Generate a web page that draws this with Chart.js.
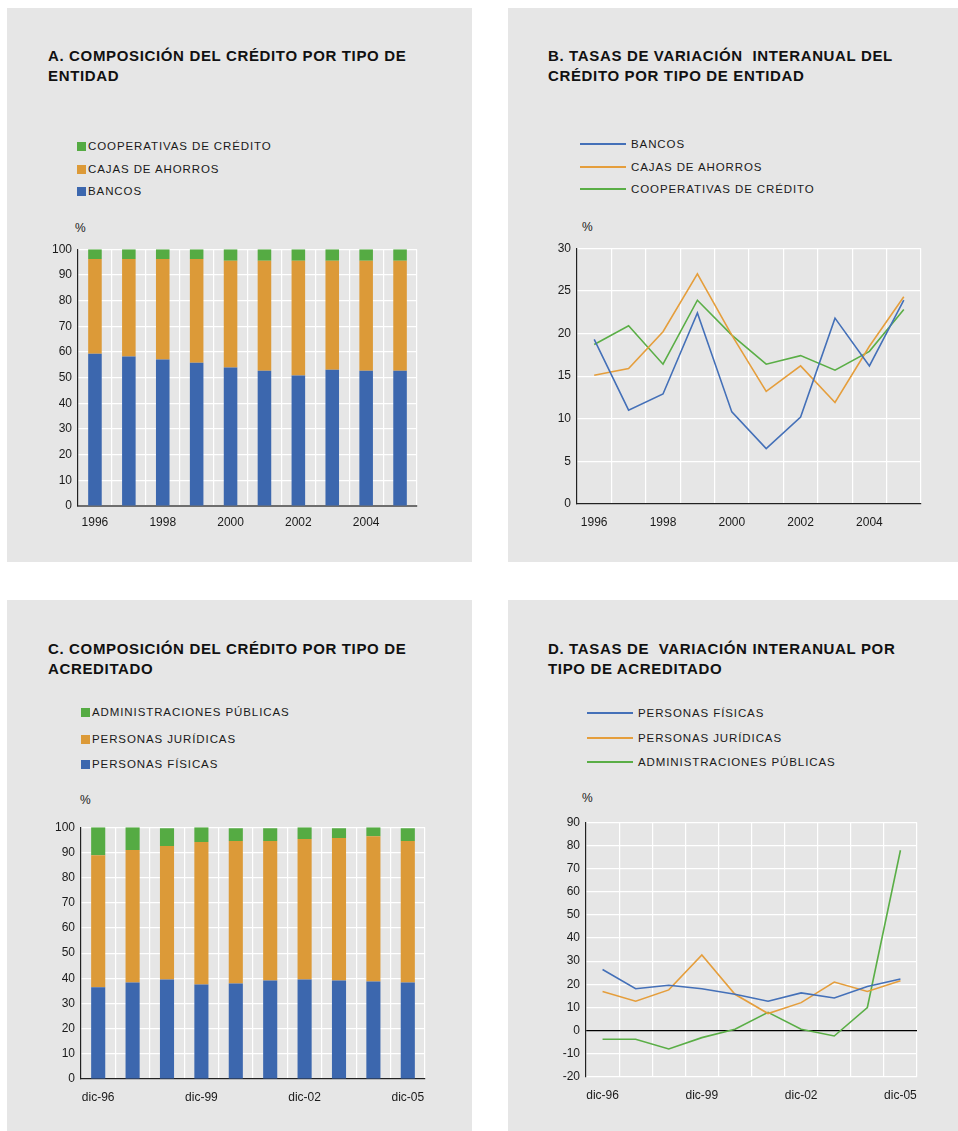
<!DOCTYPE html>
<html>
<head>
<meta charset="utf-8">
<script src="https://cdn.jsdelivr.net/npm/chart.js@4/dist/chart.umd.min.js"></script>
<style>
  body { margin: 0; background: #fff; width: 958px; height: 1131px; position: relative; overflow: hidden;
         font-family: 'Liberation Sans', Arial, sans-serif; color: #1a1a1a; }
  .panel { position: absolute; background: #e6e6e6; }
  .title { position: absolute; font-weight: bold; font-size: 15px; line-height: 19.5px; letter-spacing: 0.65px; color: #111; }
  .legend { position: absolute; font-size: 11.5px; letter-spacing: 0.9px; color: #1a1a1a; }
  .legend div { position: absolute; white-space: nowrap; left: 0; }
  .legend .sw { display: inline-block; width: 9px; height: 9px; margin-right: 2px; vertical-align: -1px; }
  .legend .ln { display: inline-block; width: 46px; height: 1.6px; margin-right: 5px; vertical-align: 3px; }
  .pct { position: absolute; font-size: 12px; color: #1a1a1a; }
  canvas { position: absolute; }
</style>
</head>
<body>
<div class="panel" style="left:7px;top:8px;width:465px;height:554px"></div>
<div class="panel" style="left:508px;top:8px;width:450px;height:554px"></div>
<div class="panel" style="left:7px;top:600px;width:465px;height:531px"></div>
<div class="panel" style="left:508px;top:600px;width:450px;height:531px"></div>

<div class="title" style="left:48px;top:46px">A. COMPOSICIÓN DEL CRÉDITO POR TIPO DE<br>ENTIDAD</div>
<div class="title" style="left:548px;top:46px">B. TASAS DE VARIACIÓN &nbsp;INTERANUAL DEL<br>CRÉDITO POR TIPO DE ENTIDAD</div>
<div class="title" style="left:48px;top:639px">C. COMPOSICIÓN DEL CRÉDITO POR TIPO DE<br>ACREDITADO</div>
<div class="title" style="left:548px;top:639px">D. TASAS DE &nbsp;VARIACIÓN INTERANUAL POR<br>TIPO DE ACREDITADO</div>

<div class="legend" id="legA" style="left:77px;top:0"></div>
<div class="legend" id="legB" style="left:580px;top:0"></div>
<div class="legend" id="legC" style="left:81px;top:0"></div>
<div class="legend" id="legD" style="left:587px;top:0"></div>

<div class="pct" style="left:75px;top:221px">%</div>
<div class="pct" style="left:582px;top:220px">%</div>
<div class="pct" style="left:80px;top:793px">%</div>
<div class="pct" style="left:582px;top:791px">%</div>

<canvas id="chartA" width="420" height="300" style="left:20px;top:236px"></canvas>
<canvas id="chartB" width="420" height="300" style="left:520px;top:235px"></canvas>
<canvas id="chartC" width="420" height="295" style="left:20px;top:814px"></canvas>
<canvas id="chartD" width="420" height="298" style="left:520px;top:809px"></canvas>

<script>
// Panel A / B: by type of institution
const years = ['1996', '1997', '1998', '1999', '2000', '2001', '2002', '2003', '2004', '2005'];
const bancosShare = [59.3, 58.2, 57.0, 55.8, 53.9, 52.7, 50.8, 53.1, 52.7, 52.7];
const cajasShare = [36.9, 38.0, 39.2, 40.4, 41.6, 42.8, 44.7, 42.4, 42.8, 42.8];
const coopShare = [3.8, 3.8, 3.8, 3.8, 4.5, 4.5, 4.5, 4.5, 4.5, 4.5];

const bancosRate = [19.3, 11.0, 12.9, 22.4, 10.8, 6.5, 10.2, 21.8, 16.2, 23.9];
const cajasRate = [15.1, 15.9, 20.2, 27.0, 19.8, 13.2, 16.2, 11.9, 18.5, 24.3];
const coopRate = [18.7, 20.9, 16.4, 23.9, 19.8, 16.4, 17.4, 15.7, 17.9, 22.8];

// Panel C / D: by type of borrower
const months = ['dic-96', 'dic-97', 'dic-98', 'dic-99', 'dic-00', 'dic-01', 'dic-02', 'dic-03', 'dic-04', 'dic-05'];
const fisicasShare = [36.4, 38.3, 39.5, 37.5, 37.9, 39.1, 39.5, 39.1, 38.7, 38.3];
const juridicasShare = [52.5, 52.6, 53.0, 56.6, 56.6, 55.4, 55.8, 56.6, 57.7, 56.2];
const publicasShare = [11.1, 9.1, 7.1, 5.9, 5.1, 5.1, 4.7, 3.9, 3.6, 5.1];

const fisicasRate = [26.4, 18.1, 19.6, 18.1, 15.7, 12.7, 16.3, 14.1, 19.1, 22.3];
const juridicasRate = [16.9, 12.7, 17.6, 32.7, 15.7, 7.4, 12.1, 21.0, 16.9, 21.6];
const publicasRate = [-3.7, -3.7, -7.9, -3.0, 0.6, 7.9, 0.6, -2.3, 10.0, 77.9];

const BLUE = '#3c67ae';
const ORANGE = '#dc9a38';
const GREEN = '#55ab43';
const LINE_BLUE = '#4470b8';
const LINE_ORANGE = '#e59e3c';
const LINE_GREEN = '#5aae46';

Chart.defaults.font.family = "'Liberation Sans', Arial, sans-serif";
Chart.defaults.font.size = 12;
Chart.defaults.color = '#1a1a1a';
Chart.defaults.animation = false;

function legend(id, rows, kind, tops) {
  const el = document.getElementById(id);
  el.innerHTML = rows.map((r, i) => kind === 'box'
    ? `<div style="top:${tops[i] - 7}px"><span class="sw" style="background:${r.color}"></span>${r.label}</div>`
    : `<div style="top:${tops[i] - 7}px"><span class="ln" style="background:${r.color}"></span>${r.label}</div>`
  ).join('');
}

function makeChart(id, type, labels, datasets, opts) {
  return new Chart(document.getElementById(id), {
    type,
    data: { labels, datasets },
    options: {
      responsive: false,
      layout: { padding: { top: opts.padTop, right: opts.padRight, left: 0, bottom: 0 } },
      plugins: { legend: { display: false }, tooltip: { enabled: false } },
      elements: { point: { radius: 0 }, line: { borderWidth: 1.6, tension: 0 } },
      scales: {
        x: {
          stacked: type === 'bar',
          offset: true,
          grid: { offset: true, color: '#ffffff', lineWidth: 1.2, drawTicks: false },
          border: opts.xBorder,
          ticks: {
            autoSkip: false,
            maxRotation: 0,
            padding: opts.xPad,
            callback(value, index) { return index % opts.every === 0 ? this.getLabelForValue(value) : ''; },
          },
          afterFit(scale) { scale.height = opts.xHeight; },
        },
        y: {
          stacked: type === 'bar',
          min: opts.min,
          max: opts.max,
          grid: { color: opts.gridColor || '#ffffff', lineWidth: 1.2, drawTicks: false },
          border: { display: true, color: '#222', width: 1.2 },
          ticks: { stepSize: opts.step, padding: 6 },
          afterFit(scale) { scale.width = opts.yWidth; },
        },
      },
    },
  });
}

// A
legend('legA', [
  { label: 'COOPERATIVAS DE CRÉDITO', color: GREEN },
  { label: 'CAJAS DE AHORROS', color: ORANGE },
  { label: 'BANCOS', color: BLUE },
], 'box', [147, 170, 192]);
makeChart('chartA', 'bar', years, [
  { label: 'BANCOS', data: bancosShare, backgroundColor: BLUE, barPercentage: 0.4, categoryPercentage: 1 },
  { label: 'CAJAS DE AHORROS', data: cajasShare, backgroundColor: ORANGE, barPercentage: 0.4, categoryPercentage: 1 },
  { label: 'COOPERATIVAS DE CRÉDITO', data: coopShare, backgroundColor: GREEN, barPercentage: 0.4, categoryPercentage: 1 },
], { padTop: 12, padRight: 23, yWidth: 58, xHeight: 30, xPad: 9, every: 2, min: 0, max: 100, step: 10,
     xBorder: { display: true, color: '#6e6e6e', width: 2 } });

// B
legend('legB', [
  { label: 'BANCOS', color: LINE_BLUE },
  { label: 'CAJAS DE AHORROS', color: LINE_ORANGE },
  { label: 'COOPERATIVAS DE CRÉDITO', color: LINE_GREEN },
], 'line', [145, 168, 190]);
makeChart('chartB', 'line', years, [
  { label: 'BANCOS', data: bancosRate, borderColor: LINE_BLUE },
  { label: 'CAJAS DE AHORROS', data: cajasRate, borderColor: LINE_ORANGE },
  { label: 'COOPERATIVAS DE CRÉDITO', data: coopRate, borderColor: LINE_GREEN },
], { padTop: 12, padRight: 19, yWidth: 57, xHeight: 31, xPad: 11, every: 2, min: 0, max: 30, step: 5,
     xBorder: { display: true, color: '#222', width: 1.2 } });

// C
legend('legC', [
  { label: 'ADMINISTRACIONES PÚBLICAS', color: GREEN },
  { label: 'PERSONAS JURÍDICAS', color: ORANGE },
  { label: 'PERSONAS FÍSICAS', color: BLUE },
], 'box', [713, 740, 765]);
makeChart('chartC', 'bar', months, [
  { label: 'PERSONAS FÍSICAS', data: fisicasShare, backgroundColor: BLUE, barPercentage: 0.41, categoryPercentage: 1 },
  { label: 'PERSONAS JURÍDICAS', data: juridicasShare, backgroundColor: ORANGE, barPercentage: 0.41, categoryPercentage: 1 },
  { label: 'ADMINISTRACIONES PÚBLICAS', data: publicasShare, backgroundColor: GREEN, barPercentage: 0.41, categoryPercentage: 1 },
], { padTop: 12, padRight: 15, yWidth: 61, xHeight: 30, xPad: 11, every: 3, min: 0, max: 100, step: 10,
     xBorder: { display: true, color: '#222', width: 1.2 } });

// D
legend('legD', [
  { label: 'PERSONAS FÍSICAS', color: LINE_BLUE },
  { label: 'PERSONAS JURÍDICAS', color: LINE_ORANGE },
  { label: 'ADMINISTRACIONES PÚBLICAS', color: LINE_GREEN },
], 'line', [714, 739, 763]);
makeChart('chartD', 'line', months, [
  { label: 'PERSONAS FÍSICAS', data: fisicasRate, borderColor: LINE_BLUE },
  { label: 'PERSONAS JURÍDICAS', data: juridicasRate, borderColor: LINE_ORANGE },
  { label: 'ADMINISTRACIONES PÚBLICAS', data: publicasRate, borderColor: LINE_GREEN },
], { padTop: 12, padRight: 23, yWidth: 66, xHeight: 30, xPad: 11, every: 3, min: -20, max: 90, step: 10,
     xBorder: { display: false },
     gridColor: ctx => (ctx.tick && ctx.tick.value === 0 ? '#000000' : '#ffffff') });
</script>
</body>
</html>
